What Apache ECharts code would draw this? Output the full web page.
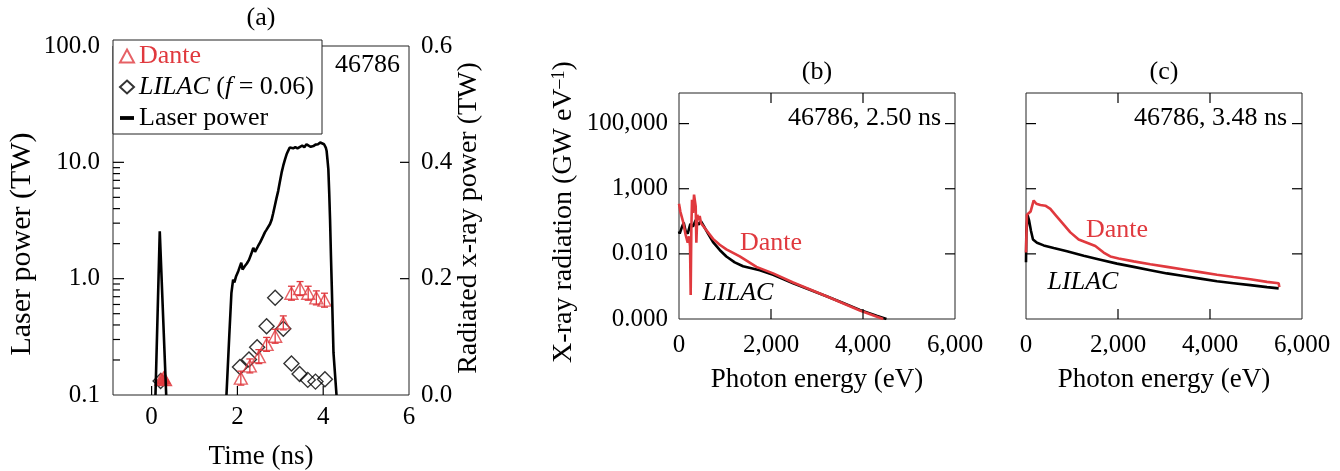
<!DOCTYPE html>
<html><head><meta charset="utf-8">
<script src="https://cdn.jsdelivr.net/npm/echarts@6/dist/echarts.min.js"></script>
<style>html,body{margin:0;padding:0;background:#fff}#c{width:1340px;height:471px}</style>
</head><body><div id="c"></div>
<script>
// ---------- Panel (a) data ----------
const laserTime1 = [0.09, 0.19, 0.34];
const laserPower1 = [0.1, 2.55, 0.1];
const laserTime2 = [1.745, 1.81, 1.86, 1.90, 1.93, 1.97, 2.02, 2.06, 2.09, 2.12, 2.17, 2.22, 2.27, 2.32, 2.37, 2.41, 2.44, 2.48, 2.53, 2.57, 2.60, 2.64, 2.68, 2.72, 2.76, 2.80, 2.83, 2.87, 2.91, 2.95, 2.99, 3.03, 3.07, 3.11, 3.15, 3.18, 3.22, 3.26, 3.30, 3.35, 3.40, 3.46, 3.51, 3.56, 3.61, 3.66, 3.71, 3.77, 3.82, 3.88, 3.93, 3.97, 4.02, 4.06, 4.08, 4.10, 4.12, 4.14, 4.16, 4.18, 4.20, 4.24, 4.31];
const laserPower2 = [0.1, 0.32, 0.75, 0.98, 0.93, 1.05, 1.16, 1.12, 1.37, 1.2, 1.28, 1.35, 1.45, 1.62, 1.84, 1.7, 1.67, 1.9, 2.05, 2.2, 2.32, 2.5, 2.64, 2.55, 2.95, 3.23, 3.6, 4.2, 4.9, 5.66, 6.8, 8.15, 9.4, 10.6, 11.8, 12.5, 13.4, 13.0, 13.2, 13.5, 13.2, 13.6, 13.9, 13.5, 14.3, 13.9, 13.6, 13.8, 14.2, 14.3, 14.8, 14.6, 14.3, 13.4, 12.5, 10.5, 8.7, 5.5, 3.2, 1.6, 0.86, 0.23, 0.1];
const danteTime = [2.08, 2.29, 2.50, 2.68, 2.88, 3.07, 3.26, 3.46, 3.65, 3.84, 4.03];
const dantePower = [0.029, 0.050, 0.066, 0.087, 0.101, 0.124, 0.175, 0.183, 0.175, 0.167, 0.163];
const danteErr = [0.012, 0.012, 0.012, 0.012, 0.012, 0.012, 0.012, 0.012, 0.012, 0.012, 0.012];
const danteEarlyTime = [0.22, 0.28, 0.32];
const danteEarlyPower = [0.027, 0.030, 0.026];
const lilacTime = [0.21, 2.06, 2.27, 2.46, 2.68, 2.88, 3.07, 3.26, 3.45, 3.64, 3.82, 4.04];
const lilacPower = [0.024, 0.048, 0.061, 0.082, 0.118, 0.167, 0.114, 0.054, 0.036, 0.026, 0.023, 0.027];
const timeTicks = [0, 2, 4, 6];
const laserTicks = [0.1, 1, 10, 100];
const laserMinorTicks = [0.2, 0.3, 0.4, 0.5, 0.6, 0.7, 0.8, 0.9, 2, 3, 4, 5, 6, 7, 8, 9, 20, 30, 40, 50, 60, 70, 80, 90];
const xrayTicks = [0, 0.2, 0.4, 0.6];

// ---------- Panels (b), (c) data ----------
const energyTicks = [0, 2000, 4000, 6000];
const radTickPos = [0, 1, 2, 3];
const radTickLabels = ['0.000', '0.010', '1,000', '100,000'];
const bLilacE = [0, 15, 58, 102, 145, 189, 247, 305, 363, 421, 479, 537, 631, 740, 885, 1030, 1212, 1393, 1574, 1756, 2046, 2481, 2844, 3207, 3569, 3932, 4295, 4510];
const bLilacY = [1.345, 1.31, 1.40, 1.48, 1.345, 1.31, 1.46, 1.42, 1.52, 1.45, 1.50, 1.43, 1.31, 1.18, 1.06, 0.96, 0.87, 0.81, 0.78, 0.75, 0.68, 0.55, 0.45, 0.35, 0.245, 0.14, 0.05, 0];
const bDanteE = [0, 29, 87, 145, 189, 218, 240, 254, 268, 283, 305, 327, 348, 363, 377, 399, 421, 450, 479, 522, 631, 740, 885, 1030, 1321, 1684, 2046, 2481, 3207, 3932, 4440];
const bDanteY = [1.77, 1.65, 1.50, 1.29, 1.17, 1.27, 1.12, 0.37, 1.37, 1.83, 1.63, 1.91, 1.91, 1.73, 1.17, 1.60, 1.52, 1.58, 1.47, 1.45, 1.33, 1.23, 1.14, 1.07, 0.96, 0.80, 0.70, 0.56, 0.35, 0.13, 0];
const cLilacE = [0, 7, 36, 65, 109, 152, 239, 384, 601, 891, 1254, 1616, 1978, 2341, 2703, 3065, 3428, 3790, 4152, 4514, 4877, 5239, 5493];
const cLilacY = [0.87, 1.32, 1.59, 1.52, 1.35, 1.22, 1.17, 1.13, 1.09, 1.04, 0.97, 0.91, 0.85, 0.80, 0.75, 0.70, 0.66, 0.62, 0.58, 0.55, 0.52, 0.49, 0.47];
const cDanteE = [0, 20, 100, 167, 225, 312, 420, 529, 638, 783, 964, 1145, 1326, 1507, 1688, 1833, 2014, 2341, 2703, 3065, 3428, 3790, 4152, 4514, 4877, 5239, 5493, 5507];
const cDanteY = [1.02, 1.60, 1.65, 1.82, 1.77, 1.75, 1.74, 1.69, 1.60, 1.48, 1.33, 1.22, 1.17, 1.12, 1.02, 0.96, 0.93, 0.885, 0.84, 0.80, 0.76, 0.72, 0.68, 0.645, 0.61, 0.57, 0.55, 0.49];

// ---------- chart ----------
const RED = '#e0393e';
const FONT = 'Liberation Serif';
const zip = (a, b) => a.map((v, i) => [v, b[i]]);
const chart = echarts.init(document.getElementById('c'), null, {renderer: 'canvas'});

const noLine = () => ({show: false, onZero: false});
function txt(text, x, y, size, opts) {
  opts = opts || {};
  return {
    type: 'text', x: x, y: y, rotation: opts.rot || 0, z: 100,
    style: {
      text: text, font: (opts.italic ? 'italic ' : '') + size + 'px "' + FONT + '"',
      fill: opts.color || '#000', align: opts.align || 'center', verticalAlign: 'middle',
      textAlign: opts.align || 'center', textVerticalAlign: 'middle', rich: opts.rich
    }
  };
}
const supRich = {
  n: {fontFamily: FONT, fontSize: 28, color: '#000'},
  s: {fontFamily: FONT, fontSize: 18, color: '#000', verticalAlign: 'top'}
};
const lab = (extra) => Object.assign({fontFamily: FONT, fontSize: 25, color: '#000'}, extra);

// Inward tick marks, placed through the axes' own scales.
// side 'left'/'right': value on the y axis; 'bottom'/'top': value on the x axis; ref = valid value on the other axis.
function tickSeries(xi, yi, side, values, len, ref) {
  const horiz = side === 'bottom' || side === 'top';
  return {
    type: 'custom', xAxisIndex: xi, yAxisIndex: yi, z: 6, silent: true, clip: false,
    data: values.map(v => horiz ? [v, ref] : [ref, v]),
    renderItem: (params, api) => {
      const cs = params.coordSys;
      const p = api.coord([api.value(0), api.value(1)]);
      let shape;
      if (side === 'left') shape = {x1: cs.x, y1: p[1], x2: cs.x + len, y2: p[1]};
      else if (side === 'right') shape = {x1: cs.x + cs.width, y1: p[1], x2: cs.x + cs.width - len, y2: p[1]};
      else if (side === 'bottom') shape = {x1: p[0], y1: cs.y + cs.height, x2: p[0], y2: cs.y + cs.height - len};
      else shape = {x1: p[0], y1: cs.y, x2: p[0], y2: cs.y + len};
      return {type: 'line', shape: shape, style: {stroke: '#000', lineWidth: 1.2}};
    }
  };
}
const gridBase = {show: true, borderColor: '#222', borderWidth: 1, backgroundColor: 'transparent', z: 0, outerBoundsMode: 'none'};
const energyFmt = v => Number(v).toLocaleString('en-US');

const option = {
  animation: false,
  backgroundColor: '#fff',
  grid: [
    Object.assign({left: 113, top: 46, width: 296, height: 349}, gridBase),
    Object.assign({left: 679, top: 93, width: 276, height: 226}, gridBase),
    Object.assign({left: 1026, top: 93, width: 276, height: 226}, gridBase)
  ],
  xAxis: [
    {gridIndex: 0, type: 'value', min: -0.9, max: 6, axisLine: noLine(), splitLine: {show: false}, z: 5,
      axisTick: {show: false}, axisLabel: lab({customValues: timeTicks, margin: 10})},
    {gridIndex: 1, type: 'value', min: 0, max: 6000, axisLine: noLine(), splitLine: {show: false}, z: 5,
      axisTick: {show: false}, axisLabel: lab({customValues: energyTicks, margin: 14, formatter: energyFmt})},
    {gridIndex: 2, type: 'value', min: 0, max: 6000, axisLine: noLine(), splitLine: {show: false}, z: 5,
      axisTick: {show: false}, axisLabel: lab({customValues: energyTicks, margin: 14, formatter: energyFmt})}
  ],
  yAxis: [
    {gridIndex: 0, type: 'log', logBase: 10, min: 0.1, max: 100, position: 'left', axisLine: noLine(), splitLine: {show: false}, z: 5,
      axisTick: {show: false},
      axisLabel: lab({customValues: laserTicks, margin: 13, formatter: v => Number(v).toFixed(1)})},
    {gridIndex: 0, type: 'value', min: 0, max: 0.6, position: 'right', axisLine: noLine(), splitLine: {show: false}, z: 5,
      axisTick: {show: false},
      axisLabel: lab({customValues: xrayTicks, margin: 12, formatter: v => Number(v).toFixed(1)})},
    {gridIndex: 1, type: 'value', min: 0, max: 3.47, position: 'left', axisLine: noLine(), splitLine: {show: false}, z: 5,
      axisTick: {show: false},
      axisLabel: lab({customValues: radTickPos, margin: 11, formatter: v => radTickLabels[Math.round(v)]})},
    {gridIndex: 2, type: 'value', min: 0, max: 3.47, position: 'left', axisLine: noLine(), splitLine: {show: false}, z: 5,
      axisTick: {show: false}, axisLabel: {show: false}}
  ],
  legend: {
    orient: 'vertical', left: 113, top: 40, padding: [3, 8, 3, 6], itemGap: 5, z: 10,
    itemWidth: 14, itemHeight: 13,
    backgroundColor: '#fff', borderColor: '#222', borderWidth: 1, borderRadius: 0,
    textStyle: {fontFamily: FONT, fontSize: 26, color: '#000',
      rich: {i: {fontFamily: FONT, fontSize: 26, fontStyle: 'italic', color: '#000'}}},
    formatter: n => n === 'LILAC' ? '{i|LILAC} ({i|f} = 0.06)' : n,
    data: [{name: 'Dante', textStyle: {color: RED}}, {name: 'LILAC'},
      {name: 'Laser power', icon: 'path://M0,0H11V3H0Z', itemStyle: {color: '#000'}}]
  },
  series: [
    // panel (a) ticks
    tickSeries(0, 0, 'left', laserTicks.slice(1, 3), 11, 0),
    tickSeries(0, 0, 'left', laserMinorTicks, 7, 0),
    tickSeries(0, 1, 'right', xrayTicks.slice(1, 3), 9, 0),
    tickSeries(0, 1, 'bottom', timeTicks.slice(0, 3), 9, 0.1),
    // panel (b) ticks
    tickSeries(1, 2, 'left', radTickPos.slice(1), 10, 0),
    tickSeries(1, 2, 'right', radTickPos.slice(1), 10, 0),
    tickSeries(1, 2, 'bottom', energyTicks.slice(1, 3), 10, 0),
    tickSeries(1, 2, 'top', energyTicks.slice(1, 3), 10, 0),
    // panel (c) ticks
    tickSeries(2, 3, 'left', radTickPos.slice(1), 10, 0),
    tickSeries(2, 3, 'right', radTickPos.slice(1), 10, 0),
    tickSeries(2, 3, 'bottom', energyTicks.slice(1, 3), 10, 0),
    tickSeries(2, 3, 'top', energyTicks.slice(1, 3), 10, 0),
    {name: 'Laser power', type: 'line', xAxisIndex: 0, yAxisIndex: 0, symbol: 'none', clip: true,
      lineStyle: {color: '#000', width: 2.6}, itemStyle: {color: '#000'},
      data: zip(laserTime1, laserPower1).concat([['-', '-']], zip(laserTime2, laserPower2))},
    {name: 'LILAC', type: 'scatter', xAxisIndex: 0, yAxisIndex: 1, symbol: 'diamond', symbolSize: 15,
      itemStyle: {color: 'rgba(0,0,0,0)', borderColor: '#000', borderWidth: 1.4},
      data: zip(lilacTime, lilacPower)},
    {name: 'Dante', type: 'scatter', xAxisIndex: 0, yAxisIndex: 1, symbol: 'triangle', symbolSize: [13, 12],
      itemStyle: {color: 'rgba(0,0,0,0)', borderColor: RED, borderWidth: 1.4},
      data: zip(danteTime, dantePower)},
    {name: 'Dante', type: 'scatter', xAxisIndex: 0, yAxisIndex: 1, symbol: 'triangle', symbolSize: [13, 12],
      itemStyle: {color: RED, borderColor: RED, borderWidth: 1},
      data: zip(danteEarlyTime, danteEarlyPower)},
    {name: 'Dante err', type: 'custom', xAxisIndex: 0, yAxisIndex: 1, z: 3,
      data: danteTime.map((t, i) => [t, dantePower[i] - danteErr[i], dantePower[i] + danteErr[i]]),
      renderItem: (params, api) => {
        const x = api.value(0);
        const lo = api.coord([x, api.value(1)]);
        const hi = api.coord([x, api.value(2)]);
        const w = 3.5, st = {stroke: RED, lineWidth: 1.3};
        return {type: 'group', children: [
          {type: 'line', shape: {x1: lo[0], y1: lo[1], x2: hi[0], y2: hi[1]}, style: st},
          {type: 'line', shape: {x1: hi[0] - w, y1: hi[1], x2: hi[0] + w, y2: hi[1]}, style: st},
          {type: 'line', shape: {x1: lo[0] - w, y1: lo[1], x2: lo[0] + w, y2: lo[1]}, style: st}
        ]};
      }},
    {name: 'LILAC b', type: 'line', xAxisIndex: 1, yAxisIndex: 2, symbol: 'none', clip: true,
      lineStyle: {color: '#000', width: 2.6}, data: zip(bLilacE, bLilacY)},
    {name: 'Dante b', type: 'line', xAxisIndex: 1, yAxisIndex: 2, symbol: 'none', clip: true,
      lineStyle: {color: RED, width: 2.6}, data: zip(bDanteE, bDanteY)},
    {name: 'LILAC c', type: 'line', xAxisIndex: 2, yAxisIndex: 3, symbol: 'none', clip: true,
      lineStyle: {color: '#000', width: 2.6}, data: zip(cLilacE, cLilacY)},
    {name: 'Dante c', type: 'line', xAxisIndex: 2, yAxisIndex: 3, symbol: 'none', clip: true,
      lineStyle: {color: RED, width: 2.6}, data: zip(cDanteE, cDanteY)}
  ],
  graphic: [
    txt('(a)', 261, 18, 26),
    txt('(b)', 817, 72, 26),
    txt('(c)', 1164, 72, 26),
    txt('46786', 400, 65, 26, {align: 'right'}),
    txt('46786, 2.50 ns', 941, 118, 26, {align: 'right'}),
    txt('46786, 3.48 ns', 1287, 118, 26, {align: 'right'}),
    txt('Dante', 771, 243, 26, {color: RED}),
    txt('LILAC', 738, 293, 26, {italic: true}),
    txt('Dante', 1117, 230, 26, {color: RED}),
    txt('LILAC', 1083, 282, 26, {italic: true}),
    txt('Time (ns)', 261, 457, 27),
    txt('Photon energy (eV)', 817, 380, 27),
    txt('Photon energy (eV)', 1164, 380, 27),
    txt('Laser power (TW)', 22, 244, 30, {rot: Math.PI / 2}),
    txt('Radiated x-ray power (TW)', 469, 218, 28, {rot: Math.PI / 2}),
    txt('{n|X-ray radiation (GW eV}{s|–1}{n|)}', 564, 212, 28, {rot: Math.PI / 2, rich: supRich})
  ]
};
chart.setOption(option);
</script>
</body></html>
